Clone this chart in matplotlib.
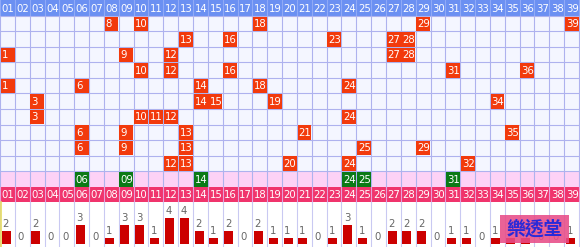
import matplotlib
matplotlib.use("Agg")
import matplotlib.pyplot as plt
from matplotlib.patches import Rectangle

# ---------------- data ----------------
numbers = [f"{i:02d}" for i in range(1, 40)]
draws = [
    [8, 10, 18, 29, 39],
    [13, 16, 23, 27, 28],
    [1, 9, 12, 27, 28],
    [10, 12, 16, 31, 36],
    [1, 6, 14, 18, 24],
    [3, 14, 15, 19, 34],
    [3, 10, 11, 12, 24],
    [6, 9, 13, 21, 35],
    [6, 9, 13, 25, 29],
    [12, 13, 20, 24, 32],
]
highlight = [6, 9, 14, 24, 25, 31]
counts = [2, 0, 2, 0, 0, 3, 0, 1, 3, 3, 1, 4, 4, 2, 1, 2, 0, 2, 1, 1,
          1, 0, 1, 3, 1, 0, 2, 2, 2, 0, 1, 1, 0, 1, 1, 1, 0, 0, 1]
watermark = "樂透堂"

# ---------------- style ----------------
W, H = 580, 247
NC = len(numbers)
CW = 579.0 / NC
HEAD_H = 16.0
ROW_H = 15.5
BLUE = "#6b90f2"
RED = "#f23a0c"
GREEN = "#0b7a16"
PINK_HEAD = "#f0346c"
PINK_ROW = "#fdd2f6"
GRID_BG = "#f4f6ff"
LINE = "#aeb2ee"
FS = 7.3

fig = plt.figure(figsize=(W / 100, H / 100), dpi=100)
ax = fig.add_axes([0, 0, 1, 1])
ax.set_xlim(0, W)
ax.set_ylim(H, 0)
ax.axis("off")

n_rows = len(draws)
y_rows0 = HEAD_H
y_green = HEAD_H + n_rows * ROW_H
y_pink = y_green + 16.0
y_bars = y_pink + 15.0

# backgrounds
ax.add_patch(Rectangle((0, 0), W, HEAD_H, color=BLUE, lw=0, zorder=0))
ax.add_patch(Rectangle((0, y_rows0), W, n_rows * ROW_H, color=GRID_BG, lw=0, zorder=0))
ax.add_patch(Rectangle((0, y_green), W, y_pink - y_green, color=PINK_ROW, lw=0, zorder=0))
ax.add_patch(Rectangle((0, y_pink), W, y_bars - y_pink, color=PINK_HEAD, lw=0, zorder=0))
ax.add_patch(Rectangle((0, y_bars), W, H - y_bars, color="white", lw=0, zorder=0))

# grid lines
for c in range(NC + 1):
    x = c * CW
    ax.plot([x, x], [0, HEAD_H], color="#8fa9f6", lw=0.8, zorder=1)
    ax.plot([x, x], [HEAD_H, y_pink], color=LINE, lw=0.8, zorder=1)
    ax.plot([x, x], [y_pink, y_bars], color="#e6a0d8", lw=0.8, zorder=1)
    ax.plot([x, x], [y_bars, H], color="#c9c9f2", lw=0.8, zorder=1)
for r in range(n_rows + 1):
    y = y_rows0 + r * ROW_H
    ax.plot([0, W], [y, y], color=LINE, lw=0.8, zorder=1)
ax.plot([0.5, 0.5], [y_bars, H], color="#e6dc60", lw=1.2, zorder=2)

def txt(col, ytop, h, s, color="white"):
    ax.text(col * CW + 1.6, ytop + h / 2 + 3.6, s, color=color, fontsize=FS,
            ha="left", va="baseline", zorder=5)

# headers
for i, s in enumerate(numbers):
    txt(i, 0, HEAD_H, s)
    txt(i, y_pink, y_bars - y_pink, s)

# draw cells
for r, row in enumerate(draws):
    ytop = y_rows0 + r * ROW_H
    for n in row:
        c = n - 1
        ax.add_patch(Rectangle((c * CW + 0.6, ytop + 0.6), CW - 0.9, ROW_H - 0.9,
                               color=RED, lw=0, zorder=3))
        txt(c, ytop, ROW_H, str(n))

for n in highlight:
    c = n - 1
    ax.add_patch(Rectangle((c * CW + 0.6, y_green + 0.6), CW - 0.9, 16 - 0.9,
                           color=GREEN, lw=0, zorder=3))
    txt(c, y_green, 16, f"{n:02d}")

# ---------------- bar chart ----------------
bar_h_px = H - y_bars
bx = fig.add_axes([0, 0, 1, bar_h_px / H])
px_per_unit = 6.5
bx.set_xlim(0, W)
bx.set_ylim(-3 / px_per_unit, (bar_h_px - 3) / px_per_unit)
bx.axis("off")
bx.patch.set_alpha(0)
lefts = [i * CW + 1.5 for i in range(NC)]
bx.bar(lefts, counts, width=9.0, align="edge", color="#cc0000", lw=0, zorder=2)
for x, v in zip(lefts, counts):
    bx.text(x + 0.8 if v else x + 1.5, v + 4 / px_per_unit, str(v), color="#666666",
            fontsize=FS, ha="left", va="baseline", zorder=3)

# watermark overlay (on top of bars)
wx = fig.add_axes([0, 0, 1, 1])
wx.set_xlim(0, W)
wx.set_ylim(H, 0)
wx.axis("off")
wx.patch.set_alpha(0)
wx.add_patch(Rectangle((500, 215), 69, 28, color="#e84c88", alpha=0.88, lw=0, zorder=10))
wx.text(534.5, 229.5, watermark, color="#2a2ad8", fontsize=13.5,
        family=["Noto Sans CJK TC", "DejaVu Sans"], fontweight="bold",
        ha="center", va="center", zorder=11)

fig.savefig("out.png", dpi=100)
